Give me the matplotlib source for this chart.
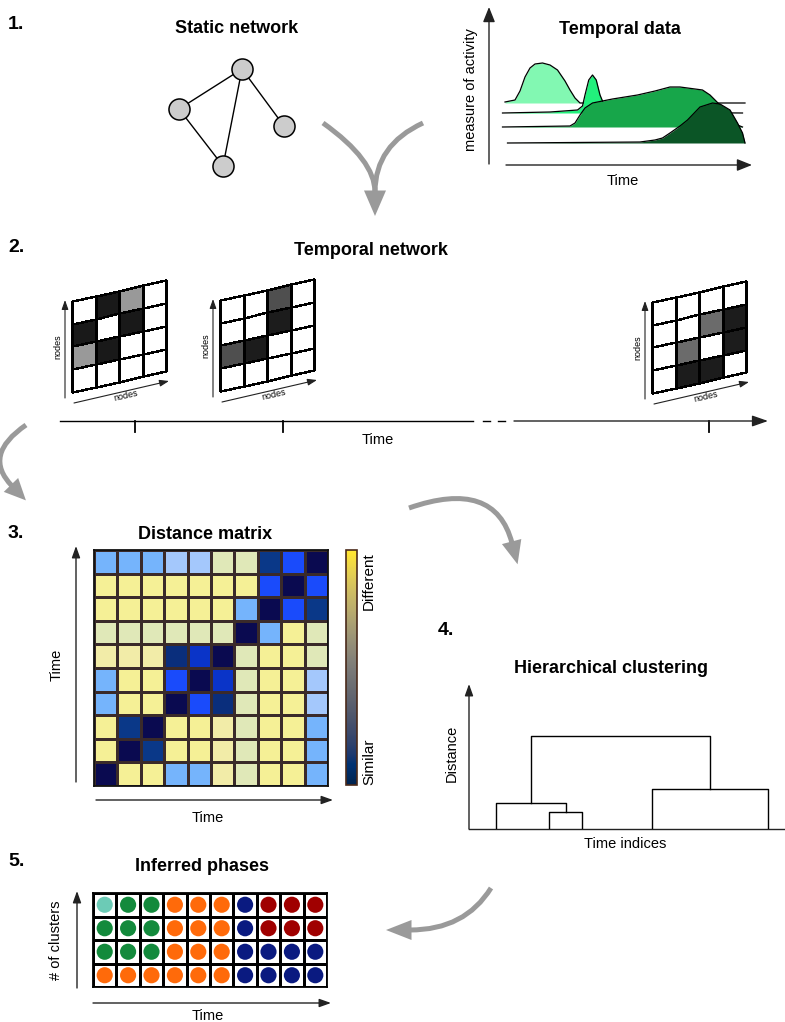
import numpy as np
import matplotlib
matplotlib.use('Agg')
import matplotlib.pyplot as plt
from matplotlib.path import Path
from matplotlib.patches import PathPatch, Polygon
from matplotlib.colors import LinearSegmentedColormap, ListedColormap, Normalize
from matplotlib.cm import ScalarMappable

plt.rcParams['font.family'] = ['Liberation Sans', 'DejaVu Sans']

W, H = 785, 1022

# ---------------- data ----------------
# 1. static network (layout units)
node_x = [8.2, 1.9, 12.4, 6.3]
node_y = [11.1, 7.1, 5.4, 1.4]
edges = [(0, 1), (0, 3), (0, 2), (1, 3)]

# 1. temporal data: four activity ridges (time 0-100, activity)
ridge_offsets = [42, 32, 18, 2]
ridge_colors = ['#82f8b2', '#22f07c', '#17a64a', '#0b5526']
s1_t = [2, 6, 8, 10, 12, 14, 17, 20, 23, 26, 28, 30, 32, 98]
s1_h = [1, 3, 12, 26, 35, 39, 40, 38, 33, 22, 13, 5, 0, 0]
s2_t = [1, 20, 31, 33, 34, 35.5, 37, 38.5, 40, 42, 45, 97]
s2_h = [0, 1, 3, 7, 18, 33, 38, 33, 18, 6, 1, 0]
s3_t = [1, 28, 30, 32, 34, 37, 45, 55, 62, 68, 72, 78, 81, 84, 88, 92, 97]
s3_h = [0, 1, 4, 12, 19, 24, 28, 32, 36, 40, 40, 38, 37, 32, 22, 5, 0]
s4_t = [3, 56, 62, 65, 68, 72, 75, 80, 85, 88, 92, 95, 97, 98]
s4_h = [0, 1, 3, 5, 10, 17, 23, 36, 40, 39, 33, 20, 10, 0]

# 2. temporal network snapshots (edge weights, 0 = none, 1 = strong)
snap1 = [[0, 0.9, 0.4, 0], [0.9, 0, 0.9, 0], [0.4, 0.9, 0, 0], [0, 0, 0, 0]]
snap2 = [[0, 0, 0.69, 0], [0, 0, 0.89, 0], [0.69, 0.89, 0, 0], [0, 0, 0, 0]]
snap3 = [[0, 0, 0, 0], [0, 0, 0.58, 0.89], [0, 0.58, 0, 0.89], [0, 0.89, 0.89, 0]]

# 3. distance matrix (0 = similar, 1 = different)
dist = [
    [0.5, 0.5, 0.5, 0.62, 0.62, 0.8, 0.8, 0.15, 0.3, 0.0],
    [1, 1, 1, 1, 1, 1, 1, 0.3, 0.0, 0.3],
    [1, 1, 1, 1, 1, 1, 0.5, 0.0, 0.3, 0.15],
    [0.8, 0.8, 0.8, 0.8, 0.8, 0.8, 0.0, 0.5, 1, 0.8],
    [0.92, 0.92, 0.92, 0.12, 0.22, 0.0, 0.8, 1, 1, 0.8],
    [0.5, 1, 1, 0.3, 0.0, 0.22, 0.8, 1, 1, 0.62],
    [0.5, 1, 1, 0.0, 0.3, 0.12, 0.8, 1, 1, 0.62],
    [1, 0.15, 0.0, 1, 1, 0.92, 0.8, 1, 1, 0.5],
    [1, 0.0, 0.15, 1, 1, 0.92, 0.8, 1, 1, 0.5],
    [0.0, 1, 1, 0.5, 0.5, 0.92, 0.8, 1, 1, 0.5],
]

# 4. dendrogram links (scipy-like icoord / dcoord)
link_x = [[2.7, 2.7, 9.65, 9.65], [8.0, 8.0, 11.3, 11.3],
          [18.3, 18.3, 29.9, 29.9], [6.2, 6.2, 24.1, 24.1]]
link_h = [[0, 1.3, 1.3, 0.85], [0, 0.85, 0.85, 0],
          [0, 2.0, 2.0, 0], [1.3, 4.65, 4.65, 2.0]]

# 5. inferred phases (rows: number of clusters, top = most)
phases = [
    [0, 1, 1, 2, 2, 2, 3, 4, 4, 4],
    [1, 1, 1, 2, 2, 2, 3, 4, 4, 4],
    [1, 1, 1, 2, 2, 2, 3, 3, 3, 3],
    [2, 2, 2, 2, 2, 2, 3, 3, 3, 3],
]
phase_colors = ['#6ccbb6', '#138a3c', '#ff6a0a', '#0a1a80', '#a00000']

# ---------------- figure ----------------
fig = plt.figure(figsize=(W / 100, H / 100), dpi=100)
ov = fig.add_axes([0, 0, 1, 1])
ov.set_xlim(0, W)
ov.set_ylim(H, 0)
ov.axis('off')


def pxax(x0, y0, x1, y1, z=2):
    a = fig.add_axes([x0 / W, 1 - y1 / H, (x1 - x0) / W, (y1 - y0) / H], zorder=z)
    a.patch.set_alpha(0)
    return a


def barrow(x0, y0, x1, y1, hl=0.6, hw=0.25, ms=12, lw=1.0, color='#222222'):
    ov.annotate('', xy=(x1, y1), xytext=(x0, y0),
                arrowprops=dict(arrowstyle=f'-|>,head_length={hl},head_width={hw}',
                                color=color, lw=lw, mutation_scale=ms,
                                shrinkA=0, shrinkB=0))


def garrow(p0, c, p1, hlen=24, hw=11, lw=3.6, color='#9a9a9a', head=True):
    path = Path([p0, c, p1], [Path.MOVETO, Path.CURVE3, Path.CURVE3])
    ov.add_patch(PathPatch(path, fc='none', ec=color, lw=lw, capstyle='butt'))
    if head:
        p1 = np.array(p1, float)
        d = p1 - np.array(c, float)
        u = d / np.linalg.norm(d)
        n = np.array([-u[1], u[0]])
        tip = p1 + u * hlen
        base = p1 - u * 1.5
        ov.add_patch(Polygon([tip, base + n * hw, base - n * hw], closed=True,
                             fc=color, ec='none'))


def title(x, y, s):
    ov.text(x, y, s, ha='center', va='baseline', fontsize=13, fontweight='bold')


def num(x, y, s):
    ov.text(x, y, s, ha='left', va='baseline', fontsize=14, fontweight='bold')


# section numbers and titles
num(8, 29, '1.')
num(8, 252, '2.')
num(8, 538, '3.')
num(438, 635, '4.')
num(8, 866, '5.')
title(237, 33, 'Static network')
title(620, 34, 'Temporal data')
title(371, 255, 'Temporal network')
title(205, 539, 'Distance matrix')
title(611, 673, 'Hierarchical clustering')
title(202, 871, 'Inferred phases')

# ---- 1. static network
axn = pxax(160, 50, 300, 180)
axn.set_xlim(0, 14)
axn.set_ylim(0, 13)
axn.axis('off')
for a, b in edges:
    axn.plot([node_x[a], node_x[b]], [node_y[a], node_y[b]], color='black', lw=1.0, zorder=1)
axn.scatter(node_x, node_y, s=230, facecolor='#cccccc', edgecolor='black', lw=1.1, zorder=2)

# ---- 1. temporal data
axt = pxax(500, 55, 750, 145)
axt.set_xlim(0, 100)
axt.set_ylim(0, 90)
axt.axis('off')
for i, (t, h) in enumerate([(s1_t, s1_h), (s2_t, s2_h), (s3_t, s3_h), (s4_t, s4_h)]):
    base = ridge_offsets[i]
    y = base + np.array(h, float)
    axt.fill_between(t, base, y, color=ridge_colors[i], lw=0, zorder=2 * i + 1)
    axt.plot(t, y, color='black', lw=0.9, zorder=2 * i + 2)
barrow(489, 164, 489, 7, hl=0.7, hw=0.28, ms=13)
barrow(506, 165, 752, 165, hl=0.7, hw=0.28, ms=13)
ov.text(471, 90, 'measure of activity', rotation=90, ha='center', va='center', fontsize=10.5)
ov.text(623, 185, 'Time', ha='center', va='baseline', fontsize=10.5)

garrow((323, 123), (375, 160), (375, 192), head=False)
garrow((423, 123), (375, 145), (375, 192), hlen=24, hw=11)

# ---- 2. temporal network
grey_cmap = LinearSegmentedColormap.from_list('g', ['white', 'black'])


def snapshot(mat, x0, ytop, w=94, h=91, shear=0.22):
    xs = x0 + np.linspace(0, w, 5)
    ys = ytop + np.linspace(0, h, 5)
    X, Y = np.meshgrid(xs, ys)
    Y = Y - shear * (X - x0)
    ov.pcolormesh(X, Y, np.array(mat), cmap=grey_cmap, vmin=0, vmax=1,
                  edgecolors='black', linewidth=1.0)
    barrow(x0 - 7, ytop + 97, x0 - 7, ytop - 1, hl=0.7, hw=0.25, ms=8, lw=0.8)
    barrow(x0 + 2, ytop + 102, x0 + 97, ytop + 80, hl=0.7, hw=0.25, ms=8, lw=0.8)
    ov.text(x0 - 14, ytop + 46, 'nodes', rotation=90, ha='center', va='center', fontsize=6.5)
    ov.text(x0 + 54, ytop + 95, 'nodes', rotation=13, ha='center', va='center',
            fontsize=6.5, rotation_mode='anchor')


snapshot(snap1, 72, 301)
snapshot(snap2, 220, 300)
snapshot(snap3, 652, 302)

ov.plot([60, 473], [421, 421], color='black', lw=1.0)
ov.plot([483, 490], [421, 421], color='black', lw=1.0)
ov.plot([498, 505], [421, 421], color='black', lw=1.0)
barrow(514, 421, 768, 421, hl=0.8, hw=0.28, ms=12)
for tx in [135, 283, 709]:
    ov.plot([tx, tx], [421, 432], color='black', lw=1.3)
ov.text(378, 444, 'Time', ha='center', va='baseline', fontsize=10.5)

garrow((26, 425), (-18, 455), (12, 486), hlen=20, hw=10)
garrow((409, 508), (495, 478), (512, 543), hlen=22, hw=10)

# ---- 3. distance matrix
dist_cmap = LinearSegmentedColormap.from_list('dist', [
    (0.0, '#0a0a50'), (0.15, '#0a3888'), (0.22, '#0a34c8'), (0.3, '#1a4cfc'),
    (0.5, '#74b4fc'), (0.62, '#a4c8fc'), (0.8, '#e0e8b8'), (0.92, '#f2eca8'),
    (1.0, '#f5f096')])
axm = pxax(94, 550, 328, 786)
axm.pcolormesh(np.array(dist), cmap=dist_cmap, vmin=0, vmax=1,
               edgecolors='#3a2a2a', linewidth=1.0)
axm.set_xlim(0, 10)
axm.set_ylim(10, 0)
axm.set_xticks([])
axm.set_yticks([])
for sp in axm.spines.values():
    sp.set_linewidth(1.3)
    sp.set_color('#111111')

cax = pxax(346, 550, 357, 785)
cb = fig.colorbar(ScalarMappable(norm=Normalize(0, 1), cmap='cividis'), cax=cax, ticks=[])
cb.outline.set_edgecolor('#4a2a1a')
cb.outline.set_linewidth(1.2)
ov.text(369, 552, 'Different', rotation=90, ha='center', va='top', fontsize=11)
ov.text(369, 785, 'Similar', rotation=90, ha='center', va='bottom', fontsize=11)

barrow(76, 782, 76, 546, hl=0.7, hw=0.25, ms=10)
barrow(96, 800, 333, 800, hl=0.7, hw=0.25, ms=10)
ov.text(57, 665, 'Time', rotation=90, ha='center', va='center', fontsize=10.5)
ov.text(208, 822, 'Time', ha='center', va='baseline', fontsize=10.5)

# ---- 4. hierarchical clustering
axd = pxax(469, 690, 785, 829)
axd.set_xlim(0, 31.6)
axd.set_ylim(0, 6.95)
axd.axis('off')
for xs, hs in zip(link_x, link_h):
    axd.plot(xs, hs, color='black', lw=1.0)
barrow(469, 829, 469, 684, hl=0.7, hw=0.25, ms=10)
ov.plot([469, 785], [829, 829], color='#222222', lw=1.0)
ov.text(452, 753, 'Distance', rotation=90, ha='center', va='center', fontsize=10.5)
ov.text(625, 848, 'Time indices', ha='center', va='baseline', fontsize=10.5)

garrow((491, 888), (465, 930), (410, 930), hlen=24, hw=10)

# ---- 5. inferred phases
axp = pxax(93, 893, 327, 987)
ph = np.array(phases)
axp.pcolormesh(np.zeros_like(ph), cmap=ListedColormap(['white']),
               edgecolors='black', linewidth=1.0)
jj, ii = np.meshgrid(np.arange(ph.shape[1]), np.arange(ph.shape[0]))
axp.scatter(jj.ravel() + 0.5, ii.ravel() + 0.5, s=135,
            c=[phase_colors[k] for k in ph.ravel()], edgecolors='none', zorder=3)
axp.set_xlim(0, 10)
axp.set_ylim(4, 0)
axp.set_xticks([])
axp.set_yticks([])
for sp in axp.spines.values():
    sp.set_linewidth(1.3)

barrow(77, 988, 77, 891, hl=0.7, hw=0.25, ms=10)
barrow(93, 1003, 331, 1003, hl=0.7, hw=0.25, ms=10)
ov.text(56, 940, '# of clusters', rotation=90, ha='center', va='center', fontsize=10.5)
ov.text(208, 1020, 'Time', ha='center', va='baseline', fontsize=10.5)

fig.savefig('out.png', dpi=100)
